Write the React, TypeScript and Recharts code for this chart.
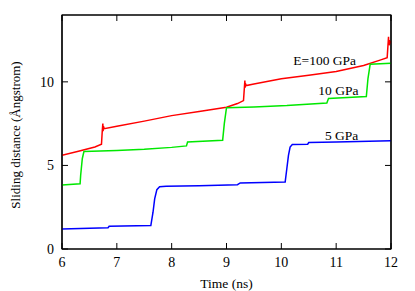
import { LineChart, Line, XAxis, YAxis, ReferenceDot, ReferenceArea } from "recharts";

const X_TICKS = [6, 7, 8, 9, 10, 11, 12];
const Y_TICKS = [0, 5, 10];

// E = 100 GPa
const RED_T = [6.0, 6.3, 6.6, 6.72, 6.735, 6.745, 6.75, 6.755, 6.77, 7.0, 7.5, 8.0, 8.5, 9.0, 9.2, 9.31, 9.325, 9.335, 9.34, 9.345, 9.36, 9.5, 10.0, 10.5, 11.0, 11.5, 11.8, 11.93, 11.945, 11.955, 11.96, 11.97, 11.98, 12.0];
const RED_Y = [5.61, 5.85, 6.1, 6.27, 7.1, 7.5, 7.05, 7.35, 7.2, 7.35, 7.65, 7.98, 8.22, 8.48, 8.7, 8.88, 9.6, 10.08, 9.65, 9.9, 9.78, 9.87, 10.18, 10.4, 10.62, 10.98, 11.3, 11.44, 12.2, 12.7, 12.2, 12.5, 12.3, 12.45];

// 10 GPa
const GREEN_T = [6.0, 6.33, 6.34, 6.37, 6.4, 7.0, 7.5, 8.0, 8.27, 8.29, 8.93, 8.96, 9.0, 9.5, 10.1, 10.83, 10.86, 11.55, 11.58, 11.62, 12.0];
const GREEN_Y = [3.83, 3.9, 4.4, 5.4, 5.83, 5.9, 5.97, 6.08, 6.17, 6.4, 6.51, 7.5, 8.45, 8.5, 8.58, 8.74, 9.0, 9.12, 10.2, 11.05, 11.12];

// 5 GPa
const BLUE_T = [6.0, 6.84, 6.86, 7.62, 7.66, 7.69, 7.73, 7.78, 7.9, 8.5, 9.2, 9.25, 10.07, 10.1, 10.13, 10.16, 10.2, 10.48, 10.5, 11.0, 12.0];
const BLUE_Y = [1.2, 1.27, 1.36, 1.4, 2.2, 3.0, 3.55, 3.72, 3.76, 3.78, 3.85, 3.95, 4.01, 4.8, 5.6, 6.1, 6.25, 6.27, 6.37, 6.4, 6.47];

const LABELS = ["E=100 GPa", "10 GPa", "5 GPa"];
const LABEL_X = [10.79, 11.04, 11.1];
const LABEL_Y = [11.3, 9.5, 6.8];

const zip = (t: number[], y: number[]) => t.map((x, i) => ({ x, y: y[i] }));
const red = zip(RED_T, RED_Y);
const green = zip(GREEN_T, GREEN_Y);
const blue = zip(BLUE_T, BLUE_Y);

const FONT = "Liberation Serif, Times New Roman, serif";
const TICK = 6;
const txt = { fontSize: 13.5, fontFamily: FONT, fill: "#000" };
const tickTxt = { ...txt, fontSize: 14 };

const BottomTick = (p: any) => (
  <g>
    <line x1={p.x} y1={p.y} x2={p.x} y2={p.y - TICK} stroke="#000" />
    <text x={p.x} y={p.y + 18} textAnchor="middle" style={tickTxt}>{p.payload.value}</text>
  </g>
);
const TopTick = (p: any) => <line x1={p.x} y1={p.y} x2={p.x} y2={p.y + TICK} stroke="#000" />;
const LeftTick = (p: any) => (
  <g>
    <line x1={p.x} y1={p.y} x2={p.x + TICK} y2={p.y} stroke="#000" />
    <text x={p.x - 8} y={p.y} dy="0.35em" textAnchor="end" style={tickTxt}>{p.payload.value}</text>
  </g>
);
const RightTick = (p: any) => <line x1={p.x} y1={p.y} x2={p.x - TICK} y2={p.y} stroke="#000" />;

export default function App() {
  return (
    <div style={{ position: "absolute", left: 0, top: 0, background: "#fff" }}>
      <LineChart width={415} height={291} margin={{ top: 14, right: 23, bottom: 0, left: 0 }}>
        <XAxis xAxisId={0} dataKey="x" type="number" domain={[6, 12]} ticks={X_TICKS} height={42}
          tickSize={0} tickMargin={0} tick={BottomTick} axisLine={{ stroke: "#000", strokeWidth: 1.2 }} allowDataOverflow
          label={(p: any) => {
            const v = p.viewBox;
            return <text x={v.x + v.width / 2} y={v.y + 39} textAnchor="middle" style={txt}>Time (ns)</text>;
          }} />
        <XAxis xAxisId="top" orientation="top" dataKey="x" type="number" domain={[6, 12]} ticks={X_TICKS} height={1}
          tickSize={0} tickMargin={0} tick={TopTick} axisLine={{ stroke: "#000", strokeWidth: 1.2 }} allowDataOverflow />
        <YAxis yAxisId={0} type="number" domain={[0, 14]} ticks={Y_TICKS} width={62}
          tickSize={0} tickMargin={0} tick={LeftTick} axisLine={{ stroke: "#000", strokeWidth: 1.2 }} allowDataOverflow
          label={(p: any) => {
            const v = p.viewBox;
            const cx = 15;
            const cy = v.y + 120;
            return <text x={cx} y={cy} transform={`rotate(-90 ${cx} ${cy})`} textAnchor="middle" dominantBaseline="central" style={{ ...txt, fontSize: 13 }}>Sliding distance (Ångstrom)</text>;
          }} />
        <YAxis yAxisId="right" orientation="right" type="number" domain={[0, 14]} ticks={Y_TICKS} width={1}
          tickSize={0} tickMargin={0} tick={RightTick} axisLine={{ stroke: "#000", strokeWidth: 1.2 }} allowDataOverflow />
        <ReferenceArea x1={6} x2={12} y1={0} y2={14} fill="none" stroke="#000" strokeWidth={1.2} ifOverflow="visible" />
        <Line data={red} dataKey="y" stroke="#ff0000" strokeWidth={1.5} dot={false} isAnimationActive={false} type="linear" />
        <Line data={green} dataKey="y" stroke="#00e800" strokeWidth={1.5} dot={false} isAnimationActive={false} type="linear" />
        <Line data={blue} dataKey="y" stroke="#0000ff" strokeWidth={1.5} dot={false} isAnimationActive={false} type="linear" />
        {LABELS.map((s, i) => (
          <ReferenceDot key={s} x={LABEL_X[i]} y={LABEL_Y[i]} r={0} stroke="none" fill="none"
            label={{ value: s, position: "center", ...txt }} />
        ))}
      </LineChart>
    </div>
  );
}
